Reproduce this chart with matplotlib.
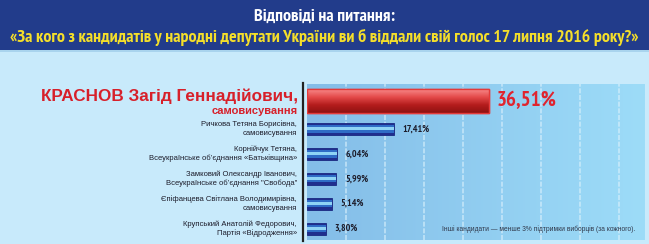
import numpy as np
import matplotlib
matplotlib.use("Agg")
import matplotlib.pyplot as plt
from matplotlib.colors import LinearSegmentedColormap
from matplotlib.patches import Rectangle
from matplotlib.lines import Line2D

# ---- data ----
names = ["КРАСНОВ Загід Геннадійович,",
         "Ричкова Тетяна Борисівна,",
         "Корнійчук Тетяна,",
         "Замковий Олександр Іванович,",
         "Єпіфанцева Світлана Володимирівна,",
         "Крупський Анатолій Федорович,"]
parties = ["самовисування",
           "самовисування",
           "Всеукраїнське об’єднання «Батьківщина»",
           "Всеукраїнське об’єднання \"Свобода\"",
           "самовисування",
           "Партія «Відродження»"]
values = [36.51, 17.41, 6.04, 5.99, 5.14, 3.80]
value_labels = ["36,51%", "17,41%", "6,04%", "5,99%", "5,14%", "3,80%"]
title1 = "Відповіді на питання:"
title2 = "«За кого з кандидатів у народні депутати України ви б віддали свій голос 17 липня 2016 року?»"
note = "Інші кандидати — менше 3% підтримки виборців (за кожного)."

W, H = 649, 244
fig = plt.figure(figsize=(W / 100, H / 100), dpi=100)
fig.patch.set_facecolor("#C8EAFB")

NARROW = ["PT Sans Narrow", "Roboto Condensed", "Fira Sans Condensed",
          "Sofia Sans Condensed", "Saira SemiCondensed", "DejaVu Sans"]
SANS = ["Liberation Sans", "DejaVu Sans"]

# title band
fig.patches.append(Rectangle((0, 1 - 50 / H), 1, 50 / H, transform=fig.transFigure,
                             facecolor="#223C8B", edgecolor="none", zorder=0))
fig.patches.append(Rectangle((0, 1 - 52 / H), 1, 2 / H, transform=fig.transFigure,
                             facecolor="#A9D4EE", edgecolor="none", zorder=0))
fig.text(0.5, 1 - 17 / H, title1, ha="center", va="center", color="white",
         fontsize=12.9, fontweight="bold", family=NARROW)
fig.text(0.5, 1 - 37.5 / H, title2, ha="center", va="center", color="#F5DF2A",
         fontsize=12.9, fontweight="bold", family=NARROW)

# axes
ax_l, ax_r, ax_t, ax_b = 306.5, 644, 84, 240
ax = fig.add_axes([ax_l / W, 1 - ax_b / H, (ax_r - ax_l) / W, (ax_b - ax_t) / H])
ax.set_xlim(0, 67.4)
ypos = [-0.12, 1, 2, 3, 4, 5]
ax.set_ylim(5.46, -0.8)
for s in ax.spines.values():
    s.set_visible(False)
ax.set_xticks(np.arange(7.8, 67.4, 7.8))
ax.set_yticks([])
ax.tick_params(axis="x", length=0, labelbottom=False)
ax.grid(axis="x", color="#D8F0FC", linewidth=1.2, linestyle=(0, (3, 1)), alpha=0.7, zorder=1)

# background gradient of plot area
bg = LinearSegmentedColormap.from_list("bg", ["#84BDE8", "#9DDCF8"])
ax.imshow(np.linspace(0, 1, 256).reshape(1, -1), cmap=bg, aspect="auto",
          extent=[0, 1, 0, 1], transform=ax.transAxes, zorder=0)

# red bar (gradient)
red_grad = LinearSegmentedColormap.from_list("rg", ["#F88A8A", "#E44A4A", "#B41C1C", "#8E1212"])
rb = ax.barh(ypos[0], values[0], height=0.96, color="#D42A2A", edgecolor="#E43A3A",
             linewidth=1, zorder=3)[0]
im = ax.imshow(np.linspace(0, 1, 256).reshape(-1, 1), cmap=red_grad, aspect="auto",
               extent=[rb.get_x(), rb.get_x() + rb.get_width(),
                       rb.get_y() + rb.get_height(), rb.get_y()], zorder=4)
im.set_clip_path(rb)
ax.barh(ypos[0], values[0], height=0.96, color="none", edgecolor="#E43A3A",
        linewidth=1, zorder=5)
ax.set_ylim(5.46, -0.8)
ax.set_xlim(0, 67.4)

# blue bars (striped)
bv = values[1:]
by = ypos[1:]
ax.barh(by, bv, height=0.48, color="#1F2E8E", edgecolor="#1A2780", linewidth=0.6, zorder=3)
ax.barh(by, bv, height=0.30, color="#2F6CC6", linewidth=0, zorder=4)
ax.barh(by, bv, height=0.12, color="#8FD3F5", linewidth=0, zorder=5)

# value labels
ax.text(values[0] + 1.5, ypos[0], value_labels[0], ha="left", va="center",
        color="#E0242E", fontsize=15, fontweight="bold", family=NARROW, zorder=6)
for v, y, lab in zip(bv, by, value_labels[1:]):
    ax.text(v + 1.7, y, lab, ha="left", va="center", color="#1C1C2A",
            fontsize=7, fontweight="bold", family=NARROW, zorder=6)

ax.text(0.975, 0.07, note, transform=ax.transAxes, ha="right", va="center",
        color="#30384A", fontsize=4.8, family=SANS, zorder=6)

# vertical axis line
fig.add_artist(Line2D([302.5 / W, 302.5 / W], [1 - 241 / H, 1 - 83 / H],
                      transform=fig.transFigure, color="#222222", linewidth=1.6))

# category labels (left)
def yf(y):
    return ax.transData.transform((0, y))[1] / H

fig.text(298 / W, yf(ypos[0]) + 5 / H, names[0], ha="right", va="center",
         color="#D7202A", fontsize=12.3, fontweight="bold", family=SANS)
fig.text(298 / W, yf(ypos[0]) - 10.5 / H, parties[0], ha="right", va="center",
         color="#D7202A", fontsize=8, fontweight="bold", family=SANS)
for n, p, y in zip(names[1:], parties[1:], by):
    fig.text(297 / W, yf(y) + 4.5 / H, n, ha="right", va="center",
             color="#1C1C2A", fontsize=5.5, family=SANS)
    fig.text(297 / W, yf(y) - 4.5 / H, p, ha="right", va="center",
             color="#1C1C2A", fontsize=5.5, family=SANS)

fig.savefig("out.png", dpi=100, facecolor=fig.get_facecolor())
